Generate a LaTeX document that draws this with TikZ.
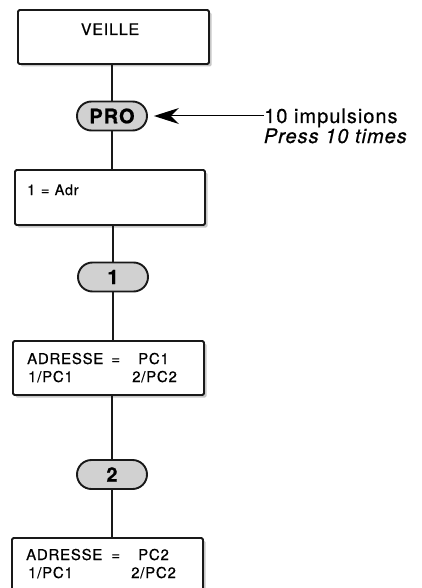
\documentclass[tikz,border=0pt]{standalone}
\usepackage{fontspec}
\setmainfont[LetterSpace=5, FakeBold=0.6]{TeX Gyre Heros}
\usetikzlibrary{shadows,arrows.meta}
\begin{document}
\begin{tikzpicture}[x=1pt,y=-1pt,
  box/.style={draw=black!90, line width=1.9pt, rounded corners=1.5pt, fill=white,
    minimum width=191pt, minimum height=54pt, inner sep=0pt,
    drop shadow={shadow xshift=2.5pt, shadow yshift=-2.5pt, fill=black!22, opacity=1}},
  pill/.style={draw=black!90, line width=1.9pt, fill=black!18, rounded corners=14.5pt,
    minimum width=70pt, minimum height=29pt, inner sep=0pt, font=\fontsize{20}{22}\selectfont\bfseries},
  conn/.style={draw=black!90, line width=1.9pt},
  txt/.style={inner sep=0pt, anchor=base west, font=\fontsize{15}{17}\selectfont},
  big/.style={inner sep=0pt, font=\fontsize{20}{22}\selectfont}]
\useasboundingbox (0,0) rectangle (422,588);
% boxes and pills
\node[box] (veille) at (113.5,37) {};
\node[pill] (pro) at (112,116) {PRO};
\node[box, minimum width=190pt, minimum height=55pt] (adr) at (110,197.5) {};
\node[pill] (p1) at (113,277) {1};
\node[box] (pc1) at (108.5,368) {};
\node[pill] (p2) at (112,474.5) {2};
\node[box] (pc2) at (107.5,565) {};
% texts inside boxes
\node[txt, anchor=base, font=\fontsize{16}{18}\selectfont] (tveille) at (110,35) {VEILLE};
\node[txt, font=\fontsize{14.5}{17}\selectfont] (tadr) at (27,195) {1\hspace{1pt} = \hspace{0.5pt}Adr};
\node[txt] (tpc1a) at (27,364) {\makebox[111pt][l]{ADRESSE\hfill=\hspace{18pt}}PC1};
\node[txt] (tpc1b) at (28,382) {\makebox[104pt][l]{1/PC1}2/PC2};
\node[txt] (tpc2a) at (26,560) {\makebox[112pt][l]{ADRESSE\hfill=\hspace{18pt}}PC2};
\node[txt] (tpc2b) at (28,578) {\makebox[103pt][l]{1/PC1}2/PC2};
% connectors
\draw[conn] (veille.south -| pro.north) -- (pro.north);
\draw[conn] (pro.south) -- (pro.south |- adr.north);
\draw[conn] (adr.south -| p1.north) -- (p1.north);
\draw[conn] (p1.south) -- (p1.south |- pc1.north);
\draw[conn] (pc1.south -| p2.north) -- (p2.north);
\draw[conn] (p2.south) -- (p2.south |- pc2.north);
% annotation
\node[big, anchor=base west] (imp) at (264,123) {10 impulsions};
\node[big, anchor=base east, font=\fontsize{20}{22}\selectfont\itshape] (press) at (407,143) {Press 10 times};
\draw[line width=1pt, -{Stealth[length=25pt, width=16pt, inset=8pt]}, shorten >=6pt]
  (imp.west |- pro.east) -- (pro.east);
\end{tikzpicture}
\end{document}
